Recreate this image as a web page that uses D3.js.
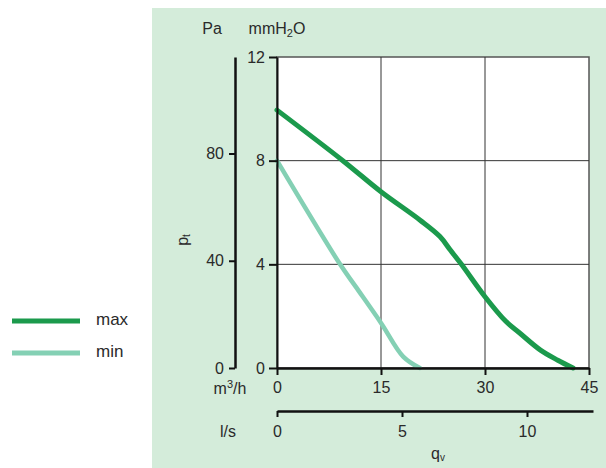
<!DOCTYPE html>
<html>
<head>
<meta charset="utf-8">
<script src="https://cdn.jsdelivr.net/npm/d3@7"></script>
<style>
  body { margin: 0; background: #fff; }
  svg text { font-family: "Liberation Sans", Arial, sans-serif; fill: #2a2a2a; }
</style>
</head>
<body>
<div id="chart"></div>
<script>
// flow q (m3/h) vs total pressure pt (mmH2O)
const MAX_Q = [0, 9.5, 15, 20.6, 23.5, 25, 26.6, 30, 33, 35, 38, 40.5, 42.7];
const MAX_P = [9.95, 8, 6.8, 5.71, 5.07, 4.55, 4, 2.75, 1.8, 1.35, 0.69, 0.3, 0];
const MIN_Q = [0, 9.1, 11.35, 15, 18.2, 20.6];
const MIN_P = [8, 4, 3.14, 1.74, 0.44, 0];

const M3H_TICKS = [0, 15, 30, 45];
const LS_TICKS = [0, 5, 10];
const MM_TICKS = [0, 4, 8, 12];
const PA_TICKS = [0, 40, 80];

const SERIES = [
  { name: "max", q: MAX_Q, p: MAX_P, color: "#1b9a4c", width: 5 },
  { name: "min", q: MIN_Q, p: MIN_P, color: "#84d0b4", width: 4.5 }
];

const W = 606, H = 468;
const plot = { left: 277, right: 589, top: 57, bottom: 368 };
const FS = "16px";

const svg = d3.select("#chart").append("svg")
  .attr("width", W).attr("height", H);

// panel background
svg.append("rect")
  .attr("x", 152).attr("y", 8)
  .attr("width", W - 152).attr("height", H - 8)
  .attr("fill", "#d4ecda");

const x = d3.scaleLinear().domain([0, 45]).range([plot.left, plot.right]);
const y = d3.scaleLinear().domain([0, 12]).range([plot.bottom, plot.top]);
const yPa = d3.scaleLinear().domain([0, 116]).range([plot.bottom, plot.top]);
const xLs = d3.scaleLinear().domain([0, 316 / 25]).range([plot.left, plot.left + 316]);

// plot area
svg.append("rect")
  .attr("x", plot.left).attr("y", plot.top)
  .attr("width", plot.right - plot.left).attr("height", plot.bottom - plot.top)
  .attr("fill", "#fff")
  .attr("stroke", "#555").attr("stroke-width", 1.5);

// grid
const grid = svg.append("g").attr("stroke", "#333").attr("stroke-width", 1);
M3H_TICKS.slice(1, -1).forEach(t => {
  grid.append("line").attr("x1", x(t)).attr("x2", x(t))
    .attr("y1", plot.top).attr("y2", plot.bottom);
});
MM_TICKS.slice(1, -1).forEach(t => {
  grid.append("line").attr("x1", plot.left).attr("x2", plot.right)
    .attr("y1", y(t)).attr("y2", y(t));
});

// curves
const line = d3.line()
  .x(d => x(d[0])).y(d => y(d[1]))
  .curve(d3.curveCatmullRom.alpha(0.5));

SERIES.forEach(s => {
  svg.append("path")
    .datum(s.q.map((q, i) => [q, s.p[i]]))
    .attr("d", line)
    .attr("fill", "none")
    .attr("stroke", s.color)
    .attr("stroke-width", s.width)
    .attr("stroke-linecap", "round");
});

// axes
const styleAxis = (g, w) => {
  g.select(".domain").attr("stroke", "#111").attr("stroke-width", w);
  g.selectAll(".tick line").attr("stroke", "#111").attr("stroke-width", 2);
  g.selectAll(".tick text")
    .style("font-family", '"Liberation Sans", Arial, sans-serif')
    .style("font-size", FS).attr("fill", "#2a2a2a");
};

svg.append("g")
  .attr("transform", `translate(${plot.left},0)`)
  .call(d3.axisLeft(y).tickValues(MM_TICKS).tickSize(8).tickSizeOuter(0).tickPadding(4))
  .call(g => styleAxis(g, 2));

svg.append("g")
  .attr("transform", `translate(235,0)`)
  .call(d3.axisLeft(yPa).tickValues(PA_TICKS).tickSize(6).tickSizeOuter(0).tickPadding(5))
  .call(g => styleAxis(g, 2.5));

svg.append("g")
  .attr("transform", `translate(0,${plot.bottom})`)
  .call(d3.axisBottom(x).tickValues(M3H_TICKS).tickSize(7).tickSizeOuter(0).tickPadding(7))
  .call(g => styleAxis(g, 2.5));

svg.append("g")
  .attr("transform", `translate(0,411)`)
  .call(d3.axisBottom(xLs).tickValues(LS_TICKS).tickSize(6).tickSizeOuter(0).tickPadding(9))
  .call(g => styleAxis(g, 2.5));

// axis titles
const label = (tx, ty, anchor) => svg.append("text")
  .attr("x", tx).attr("y", ty)
  .attr("text-anchor", anchor || "middle")
  .attr("dominant-baseline", "middle")
  .style("font-size", FS);

label(212, 30).text("Pa");
const mm = label(277, 30);
mm.append("tspan").text("mmH");
mm.append("tspan").attr("dy", 4).style("font-size", "11px").text("2");
mm.append("tspan").attr("dy", -4).text("O");

const m3 = label(230, 390);
m3.append("tspan").text("m");
m3.append("tspan").attr("dy", -5).style("font-size", "11px").text("3");
m3.append("tspan").attr("dy", 5).text("/h");

label(228, 433).text("l/s");

const qv = label(438, 455);
qv.append("tspan").text("q");
qv.append("tspan").attr("dy", 3).style("font-size", "10px").text("v");

const pt = svg.append("text")
  .attr("transform", "translate(184,240) rotate(-90)")
  .attr("text-anchor", "middle")
  .attr("dominant-baseline", "middle")
  .style("font-size", FS);
pt.append("tspan").text("p");
pt.append("tspan").attr("dy", 3).style("font-size", "10px").text("t");

// legend
const legend = svg.append("g");
SERIES.forEach((s, i) => {
  const ly = 321 + i * 32;
  legend.append("line")
    .attr("x1", 12).attr("x2", 80).attr("y1", ly).attr("y2", ly)
    .attr("stroke", s.color).attr("stroke-width", 5);
  legend.append("text")
    .attr("x", 96).attr("y", ly)
    .attr("dominant-baseline", "middle")
    .style("font-size", "17px")
    .text(s.name);
});
</script>
</body>
</html>
